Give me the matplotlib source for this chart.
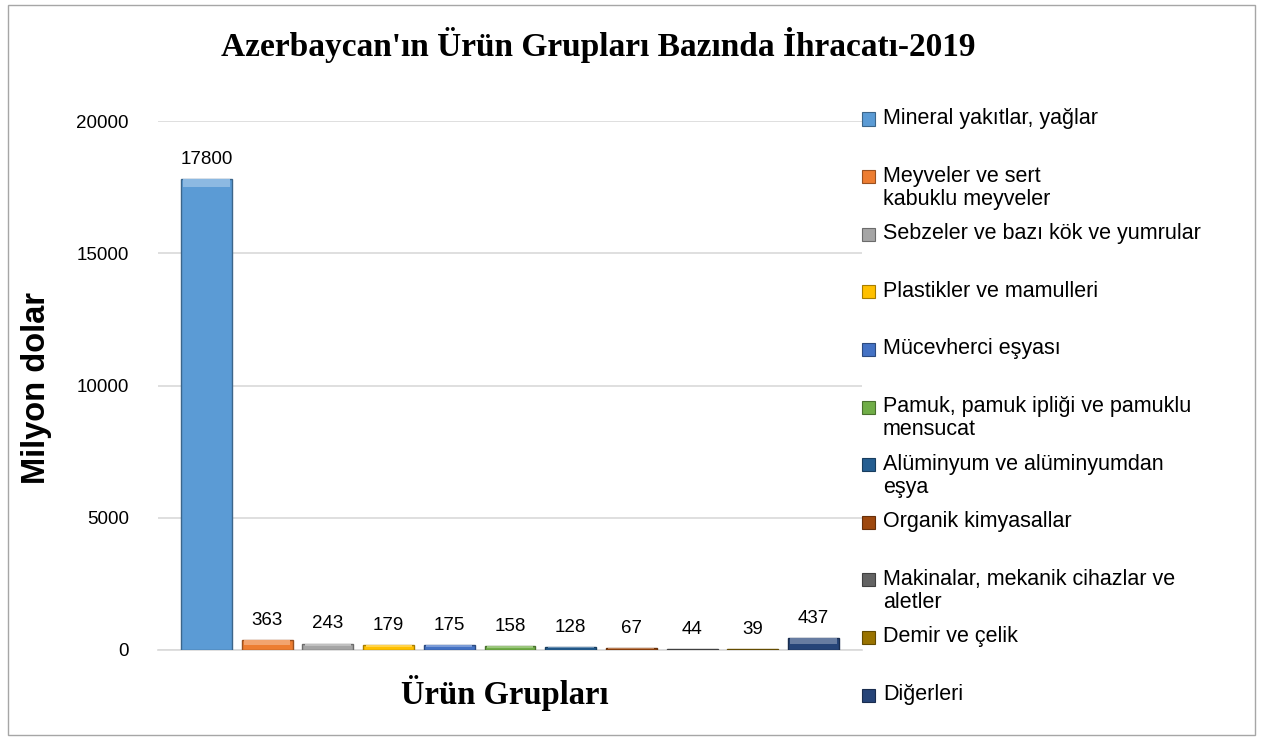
import matplotlib.pyplot as plt
import matplotlib.colors as mcolors
from matplotlib.patches import Rectangle
import numpy as np

# export values, million dollars (2019)
categories = [
    "Mineral yakıtlar, yağlar",
    "Meyveler ve sert\nkabuklu meyveler",
    "Sebzeler ve bazı kök ve yumrular",
    "Plastikler ve mamulleri",
    "Mücevherci eşyası",
    "Pamuk, pamuk ipliği ve pamuklu\nmensucat",
    "Alüminyum ve alüminyumdan\neşya",
    "Organik kimyasallar",
    "Makinalar, mekanik cihazlar ve\naletler",
    "Demir ve çelik",
    "Diğerleri",
]
values = [17800, 363, 243, 179, 175, 158, 128, 67, 44, 39, 437]
colors = ["#5B9BD5", "#ED7D31", "#A5A5A5", "#FFC000", "#4472C4", "#70AD47",
          "#255E91", "#9E480E", "#636363", "#997300", "#264478"]
yticks = [0, 5000, 10000, 15000, 20000]


def shade(c, f):
    # f > 0 -> lighter, f < 0 -> darker
    rgb = np.array(mcolors.to_rgb(c))
    if f > 0:
        return tuple(rgb + (1 - rgb) * f)
    return tuple(rgb * (1 + f))


W, H = 1262, 740
fig = plt.figure(figsize=(W / 100, H / 100), dpi=100)
ax = fig.add_axes([158 / W, 1 - 650 / H, (862 - 158) / W, (650 - 121) / H])

x = np.arange(len(values))
ax.bar(x, values, width=0.84, color=colors,
       edgecolor=[shade(c, -0.35) for c in colors], linewidth=1.0, zorder=3)
# top bevel highlight
band = [min(300, v * 0.45) for v in values]
ax.bar(x, band, bottom=[v - b for v, b in zip(values, band)], width=0.76,
       color=[shade(c, 0.3) for c in colors], linewidth=0, zorder=4)

for xi, v in zip(x, values):
    ax.annotate(f"{v}", (xi, v), xytext=(0, 8), textcoords="offset points",
                ha="center", va="bottom", fontsize=13.5,
                family="Liberation Sans", color="#000000")

ax.set_xlim(-0.8, 10.8)
ax.set_ylim(0, 20000)
ax.set_yticks(yticks)
ax.set_yticklabels([str(t) for t in yticks], fontsize=13.5, family="Liberation Sans")
ax.tick_params(axis="y", length=0, pad=21)
ax.set_xticks([])
ax.grid(axis="y", color="#D9D9D9", linewidth=1.2, zorder=0)
for s in ["top", "right", "left"]:
    ax.spines[s].set_visible(False)
ax.spines["bottom"].set_color("#D9D9D9")
ax.spines["bottom"].set_linewidth(1.2)

fig.text(598 / W, 1 - 45 / H, "Azerbaycan'ın Ürün Grupları Bazında İhracatı-2019",
         ha="center", va="center", fontsize=24, fontweight="bold",
         family="Liberation Serif")
fig.text(505 / W, 1 - 693 / H, "Ürün Grupları", ha="center", va="center",
         fontsize=23.5, fontweight="bold", family="Liberation Serif")
fig.text(37 / W, 1 - 388 / H, "Milyon dolar", ha="center", va="center",
         rotation=90, fontsize=23.5, fontweight="bold", family="Liberation Sans")

# legend, drawn by hand so entries keep Excel's even spacing
for i, (lab, c) in enumerate(zip(categories, colors)):
    yc = 119 + i * 57.6
    fig.patches.append(Rectangle((862 / W, 1 - (yc + 6.5) / H), 13 / W, 13 / H,
                                 transform=fig.transFigure,
                                 facecolor=c, edgecolor=shade(c, -0.35), lw=0.8))
    fig.text(883 / W, 1 - (yc - 11) / H, lab, ha="left", va="top",
             fontsize=15.5, family="Liberation Sans", linespacing=1.15)

fig.patches.append(Rectangle((8 / W, 5 / H), (1255 - 8) / W, (735 - 5) / H,
                             transform=fig.transFigure, fill=False,
                             edgecolor="#A6A6A6", lw=1))

fig.savefig("out.png", dpi=100)
